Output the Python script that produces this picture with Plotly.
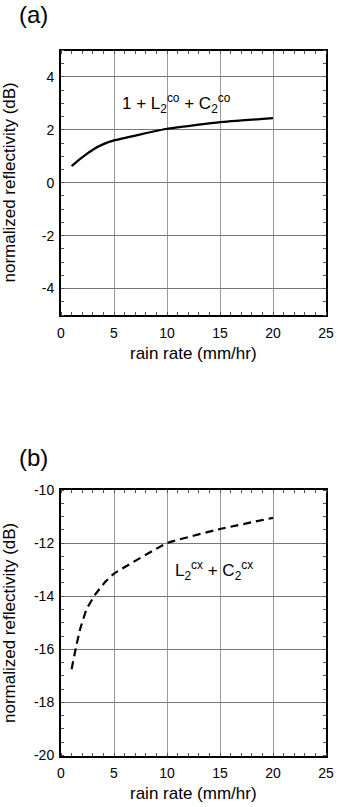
import plotly.graph_objects as go

# Panel (a) co-polar
rain_a = [1, 1.5, 2, 2.5, 3, 4, 5, 10, 15, 20]
refl_a = [0.63, 0.80, 0.96, 1.11, 1.25, 1.46, 1.60, 2.04, 2.29, 2.44]

# Panel (b) cross-polar
rain_b = [1, 1.4, 1.8, 2.4, 3.2, 4.2, 5, 10, 15, 20]
refl_b = [-16.75, -15.95, -15.25, -14.5, -13.95, -13.45, -13.15, -12.0, -11.47, -11.05]

x_ticks = [0, 5, 10, 15, 20, 25]
ya_ticks = [-4, -2, 0, 2, 4]
yb_ticks = [-20, -18, -16, -14, -12, -10]

W, H = 338, 807
FONT = "Liberation Sans, Arial, Helvetica, sans-serif"

def px(p):
    return p / W

def py(p):
    return 1 - p / H

fig = go.Figure()
fig.add_trace(go.Scatter(x=rain_a, y=refl_a, mode="lines", xaxis="x", yaxis="y",
                         line=dict(color="black", width=2.2, shape="spline", smoothing=0.3),
                         showlegend=False, hoverinfo="skip"))
fig.add_trace(go.Scatter(x=rain_b, y=refl_b, mode="lines", xaxis="x2", yaxis="y2",
                         line=dict(color="black", width=2.2, shape="spline", smoothing=0.3,
                                   dash="8px,5px"),
                         showlegend=False, hoverinfo="skip"))

xdom = [px(61), px(326)]
ya_dom = [py(315), py(50.5)]
yb_dom = [py(755.5), py(490)]

def lbl(v):
    return [str(t) for t in v]

def xax(anchor):
    return dict(domain=xdom, anchor=anchor, range=[0, 25], tickvals=x_ticks, ticktext=lbl(x_ticks),
                automargin=False, fixedrange=True,
                showgrid=True, gridcolor="#9a9a9a", gridwidth=1, zeroline=False,
                showline=True, linecolor="black", linewidth=2, mirror="allticks",
                ticks="", ticklabelstandoff=4,
                minor=dict(ticks="inside", ticklen=3, dtick=1, tick0=0, tickcolor="#555", showgrid=False),
                tickfont=dict(size=14, color="black", family=FONT))

def yax(anchor, dom, rng, vals):
    return dict(domain=dom, anchor=anchor, range=rng, tickvals=vals, ticktext=lbl(vals),
                automargin=False, fixedrange=True,
                showgrid=True, gridcolor="#777", gridwidth=1, zeroline=False,
                showline=True, linecolor="black", linewidth=2, mirror="allticks",
                ticks="", ticklabelstandoff=2,
                minor=dict(ticks="inside", ticklen=3, dtick=0.5, tick0=0, tickcolor="#555", showgrid=False),
                tickfont=dict(size=14, color="black", family=FONT))

fig.update_layout(
    width=W, height=H, margin=dict(l=0, r=0, t=0, b=0, autoexpand=False),
    paper_bgcolor="white", plot_bgcolor="white", hovermode=False,
    font=dict(family=FONT, color="black"),
    xaxis=xax("y"), yaxis=yax("x", ya_dom, [-5, 5], ya_ticks),
    xaxis2=xax("y2"), yaxis2=yax("x2", yb_dom, [-20, -10], yb_ticks),
)

def pa(text, x, y, size, **kw):
    fig.add_annotation(text=text, xref="paper", yref="paper", x=px(x), y=py(y),
                       showarrow=False, font=dict(size=size, family=FONT, color="black"), **kw)

pa("(a)", 17, 15, 24, xanchor="left", yanchor="middle")
pa("(b)", 17, 457, 24, xanchor="left", yanchor="middle")
pa("rain rate (mm/hr)", 193.5, 353, 17, xanchor="center", yanchor="middle")
pa("rain rate (mm/hr)", 193.5, 793, 17, xanchor="center", yanchor="middle")
pa("normalized reflectivity (dB)", 9, 182.5, 17, xanchor="center", yanchor="middle", textangle=-90)
pa("normalized reflectivity (dB)", 9, 623, 17, xanchor="center", yanchor="middle", textangle=-90)

fig.add_annotation(text="1 + L<sub>2</sub><sup>co</sup> + C<sub>2</sub><sup>co</sup>",
                   xref="x", yref="y", x=5.6, y=3.0, xanchor="left", yanchor="middle",
                   showarrow=False, font=dict(size=17, family=FONT, color="black"))
fig.add_annotation(text="L<sub>2</sub><sup>cx</sup> + C<sub>2</sub><sup>cx</sup>",
                   xref="x2", yref="y2", x=10.6, y=-13.05, xanchor="left", yanchor="middle",
                   showarrow=False, font=dict(size=17, family=FONT, color="black"))

fig.write_html("out.html", config={"displayModeBar": False, "staticPlot": True},
               post_script="document.body.style.margin='0px';")
